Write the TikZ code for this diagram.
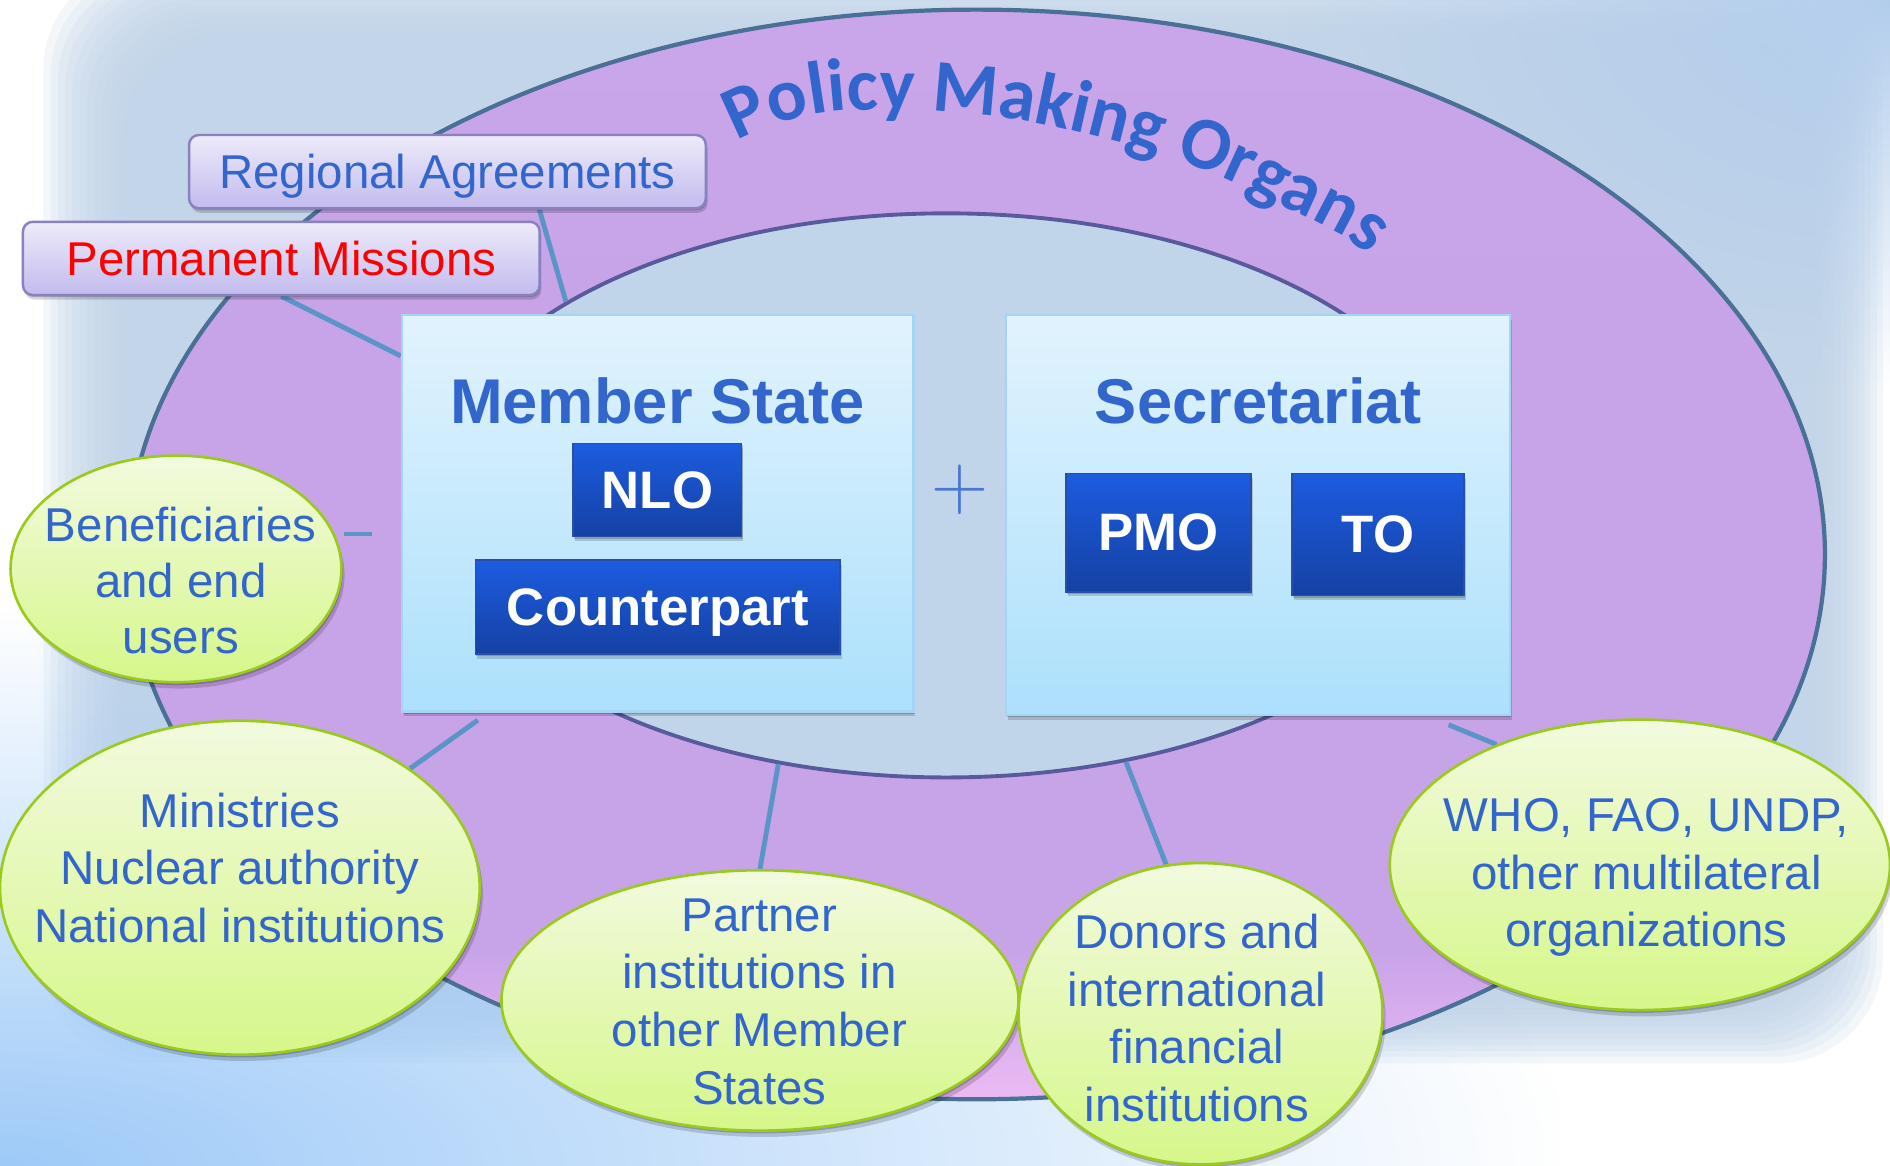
\documentclass[tikz,border=0pt]{standalone}
\usepackage{fontspec}
\newfontfamily\arial{Liberation Sans}
\newfontfamily\carl{Carlito}
\usetikzlibrary{shapes.geometric,shadows,fadings,decorations.text,calc}
\definecolor{bgmain}{HTML}{BFD3E8}
\definecolor{glow}{HTML}{9ECAF8}
\definecolor{glowtr}{HTML}{B2CDEC}
\definecolor{ringtop}{HTML}{C9A5E9}
\definecolor{ringmid}{HTML}{C7A3E8}
\definecolor{ringbot}{HTML}{EBBAF4}
\definecolor{ringedge}{HTML}{4A7096}
\definecolor{innerfill}{HTML}{C1D5EA}
\definecolor{inneredge}{HTML}{585A9C}
\definecolor{tblue}{HTML}{3366CC}
\definecolor{plusblue}{HTML}{4A78D0}
\definecolor{connc}{HTML}{5B95C8}
\definecolor{lbtop}{HTML}{E1F3FD}
\definecolor{lbbot}{HTML}{ACE0FC}
\definecolor{lbedge}{HTML}{A6D4F4}
\definecolor{bbtop}{HTML}{1C5CE0}
\definecolor{bbbot}{HTML}{1541A3}
\definecolor{bbedge}{HTML}{2A4EA8}
\definecolor{ratop}{HTML}{EDEBFA}
\definecolor{rabot}{HTML}{C2BBEE}
\definecolor{raedge}{HTML}{8A82C0}
\definecolor{gtop}{HTML}{F2FADE}
\definecolor{gbot}{HTML}{D6F78A}
\definecolor{gedge}{HTML}{9ACA1C}
\definecolor{pmred}{HTML}{FF0000}
\tikzfading[name=glowfade, inner color=transparent!0, outer color=transparent!100]
\pgfdeclareverticalshading{ringshade}{100bp}{color(0bp)=(ringbot); color(25bp)=(ringbot); color(32bp)=(ringmid); color(60bp)=(ringmid); color(75bp)=(ringtop); color(100bp)=(ringtop)}
\pgfdeclarelayer{bgl}
\pgfdeclarelayer{cl}
\pgfsetlayers{bgl,cl,main}
\newcommand\spx{0.34297pt}
\begin{document}
\begin{tikzpicture}[x=0.012054cm, y=-0.012054cm,
  boxshadow/.style={drop shadow={shadow xshift=0.5pt, shadow yshift=-1.3pt, opacity=0.16, fill=black},
                    drop shadow={shadow xshift=0.25pt, shadow yshift=-0.6pt, opacity=0.18, fill=black}},
  ellshadow/.style={drop shadow={shadow xshift=0.9pt, shadow yshift=-1.8pt, opacity=0.16, fill=black},
                    drop shadow={shadow xshift=0.4pt, shadow yshift=-0.8pt, opacity=0.2, fill=black}},
  ring/.style={ellipse, draw=ringedge, line width=1.2pt, shading=ringshade, inner sep=0pt,
               minimum width=1408*\spx, minimum height=904*\spx},
  innerell/.style={ellipse, draw=inneredge, line width=1.1pt, fill=innerfill, inner sep=0pt,
               minimum width=860*\spx, minimum height=468*\spx},
  lightbox/.style={rectangle, draw=lbedge, line width=0.7pt, top color=lbtop, bottom color=lbbot,
               inner sep=0pt, boxshadow},
  bluebox/.style={rectangle, draw=bbedge, line width=0.4pt, top color=bbtop, bottom color=bbbot,
               text=white, font=\arial\bfseries\fontsize{15}{18}\selectfont, text depth=0pt,
               inner sep=0pt, boxshadow},
  titletext/.style={font=\arial\bfseries\fontsize{18}{21}\selectfont, text=tblue, text depth=0pt, inner sep=0pt},
  tagbox/.style={rectangle, rounded corners=2.8pt, draw=raedge, line width=0.7pt, top color=ratop,
               bottom color=rabot, font=\arial\fontsize{13.5}{16}\selectfont, text depth=0pt,
               inner sep=0pt, minimum width=428.7*\spx, minimum height=60.8*\spx, boxshadow},
  greenell/.style={ellipse, draw=gedge, line width=0.75pt, top color=gtop, bottom color=gbot,
               inner sep=0pt, ellshadow},
  elltext/.style={font=\arial\fontsize{13.5}{16.4}\selectfont, text=tblue, align=center, inner sep=0pt},
  conn/.style={draw=connc, line width=1.4pt}
]
\useasboundingbox (0,0) rectangle (1568,967);
\begin{pgfonlayer}{bgl}
  \fill[white] (0,0) rectangle (1568,967);
  \foreach \k in {0,...,11} {
    \fill[bgmain, fill opacity=0.18, rounded corners=30pt] ({36+6*\k},{-30+5*\k}) rectangle ({1562-5*\k},{882-5*\k});
  }
  \fill[glowtr, path fading=glowfade] (1068,-320) rectangle (2068,320);
  \fill[glow, path fading=glowfade] (-1300,507) rectangle (1300,1427);
  \node[ring] (outer) at (810,460) {};
  \node[innerell] (inner) at (785,411) {};
  \path[decorate, decoration={text along path, text align=center,
      text={|\carl\bfseries\fontsize{21.2}{25}\selectfont\color{tblue}|Policy Making Organs}}]
    (586,132) -- (612,117) .. controls (644.6,98.2) and (684.3,91) .. (722,91)
    .. controls (773,91) and (824.1,94.4) .. (874,105)
    .. controls (932.7,117.5) and (992,133.9) .. (1045,162)
    .. controls (1074.1,177.5) and (1106.7,187.8) .. (1132,209) -- (1158,231);
\end{pgfonlayer}

% main boxes
\node[lightbox, minimum width=424.3*\spx, minimum height=329.1*\spx] (ms) at (545.6,425.9) {};
\node[lightbox, minimum width=418.3*\spx, minimum height=331.9*\spx] (sec) at (1043.6,427.3) {};
\node[titletext] (mst) at (545.5,332) {Member State};
\node[titletext] (sect) at (1044,332) {Secretariat};
\node[bluebox, minimum width=139.9*\spx, minimum height=77.4*\spx] (nlo) at (545.4,406.5) {NLO};
\node[bluebox, minimum width=302.5*\spx, minimum height=78*\spx] (cp) at (545.7,503.6) {Counterpart};
\node[bluebox, minimum width=153.4*\spx, minimum height=98.4*\spx] (pmo) at (961.1,441.8) {PMO};
\node[bluebox, minimum width=142.8*\spx, minimum height=101.4*\spx] (to) at (1143.2,443.3) {TO};
\node[font=\rmfamily\fontsize{22.5}{25}\selectfont, text=plusblue, inner sep=0pt] (plus) at (796,406.5) {+};

% tags
\node[tagbox, text=tblue] (ra) at (371.2,142.4) {Regional Agreements};
\node[tagbox, text=pmred] (pm) at (233.4,214.4) {Permanent Missions};

% green ellipses
\node[greenell, minimum width=274.5*\spx, minimum height=188*\spx] (ben) at (146,472) {};
\node[elltext, font=\arial\fontsize{13.5}{15.9}\selectfont] (bent) at (150,481.5) {Beneficiaries\\and end\\users};
\node[greenell, minimum width=398*\spx, minimum height=277*\spx] (min) at (199,736.5) {};
\node[elltext] (mint) at (199,720) {Ministries\\Nuclear authority\\National institutions};
\node[greenell, minimum width=429*\spx, minimum height=216*\spx] (par) at (630.5,830) {};
\node[elltext] (part) at (630,831) {Partner\\institutions in\\other Member\\States};
\node[greenell, minimum width=302*\spx, minimum height=250*\spx] (don) at (996,841) {};
\node[elltext] (dont) at (993,844.7) {Donors and\\international\\financial\\institutions};
\node[greenell, minimum width=415*\spx, minimum height=241*\spx] (who) at (1360.5,717.5) {};
\node[elltext] (whot) at (1366,728) {WHO, FAO, UNDP,\\other multilateral\\organizations};

% connectors
\begin{pgfonlayer}{cl}
  \draw[conn] (pm.south) -- ($(ms.north west)+(0,35)$);
  \draw[conn] ($(ra.south west)!0.677!(ra.south east)$) -- (inner.153);
  \draw[conn] ($(ben.east)+(1,-29)$) -- ++(23,0);
  \draw[conn] (min.35) -- ($(ms.south west)+(64,6)$);
  \draw[conn] (par.north) -- (inner.-122);
  \draw[conn] (don.103) -- (inner.-56);
  \draw[conn] (who.140) -- ($(sec.south east)+(-52,7)$);
\end{pgfonlayer}
\end{tikzpicture}
\end{document}
